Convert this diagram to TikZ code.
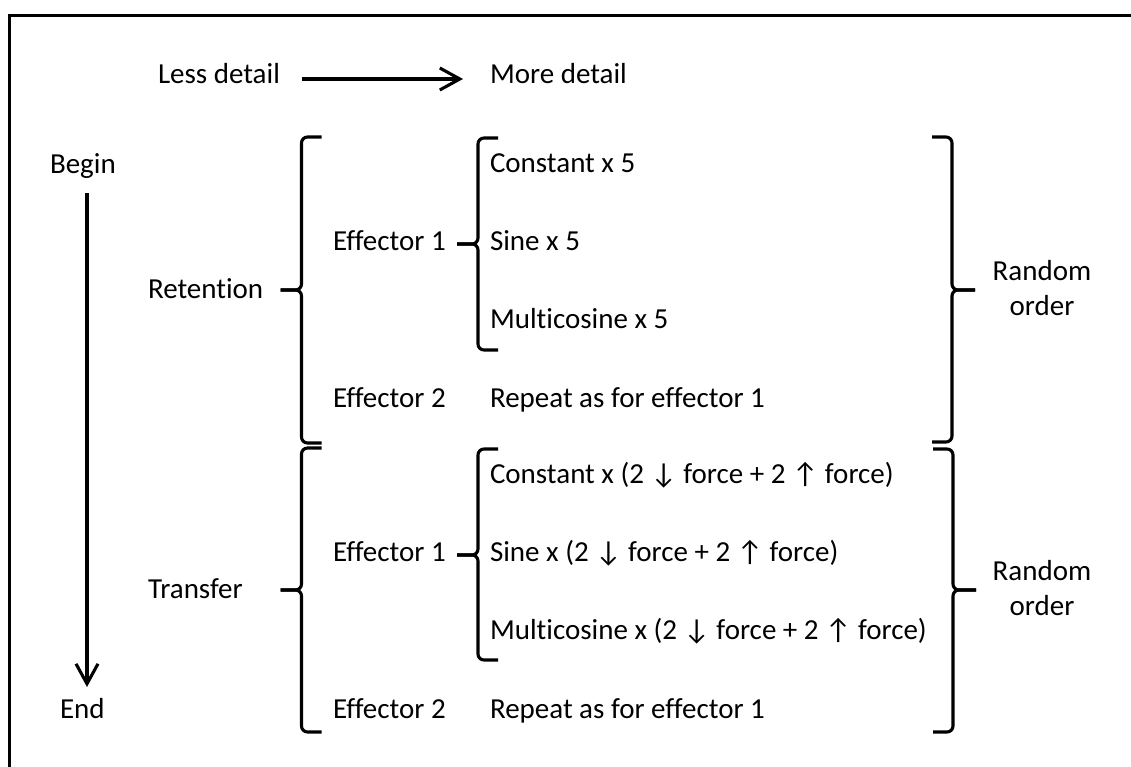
\documentclass[tikz,border=0pt]{standalone}
\usepackage{fontspec}
\setmainfont{Carlito}[Ligatures=NoCommon]
\usetikzlibrary{arrows.meta}
\newcommand\myBraceL[4]{%
  \draw[brc] (#1+20,#2) -- (#1,#2) -- (#1,#3) -- (#1-21,#3);
  \draw[brc] (#1+20,#4) -- (#1,#4) -- (#1,#3) -- (#1-21,#3);}
\newcommand\myBraceR[4]{%
  \draw[brc] (#1-20,#2) -- (#1,#2) -- (#1,#3) -- (#1+23,#3);
  \draw[brc] (#1-20,#4) -- (#1,#4) -- (#1,#3) -- (#1+23,#3);}
\begin{document}
\begin{tikzpicture}[x=1pt,y=-1pt,
  every node/.style={font=\fontsize{29}{35}\selectfont, inner sep=0pt, outer sep=0pt},
  txt/.style={anchor=base west},
  ctr/.style={anchor=base},
  brc/.style={line width=3.1pt, rounded corners=6pt},
  arr/.style={line width=3.1pt, -{Straight Barb[length=20pt,width=22pt]}}]
\useasboundingbox (0,0) rectangle (1131,766);
\draw[line width=3pt] (1140,15.5) -- (9.5,15.5) -- (9.5,775);

% header
\node[txt] (less) at (158,83) {Less detail};
\node[txt] (more) at (490,83) {More detail};
\draw[arr] ([xshift=22pt,yshift=4pt]less.base east) -- ([xshift=-27pt,yshift=4pt]more.base west);

% time axis
\node[txt] (begin) at (50,173) {Begin};
\node[txt] (end) at (60,718) {End};
\draw[arr] ([xshift=37pt,yshift=-20pt]begin.base west) -- ([xshift=27pt,yshift=31pt]end.base west);

% retention
\node[txt] (ret) at (148,298) {Retention};
\node[txt] (re1) at (333,250) {Effector 1};
\node[txt] (rc) at (490,172) {Constant x 5};
\node[txt] (rs) at (490,250) {Sine x 5};
\node[txt] (rm) at (490,328) {Multicosine x 5};
\node[txt] (re2) at (333,407) {Effector 2};
\node[txt] (rr) at (490,407) {Repeat as for effector 1};
\node[ctr] (ro1) at (1042,280) {Random};
\node[ctr] (ro2) at (1042,315) {order};
\myBraceL{301.5}{137}{290}{443}
\myBraceL{478}{138}{244}{350}
\myBraceR{952}{137}{290}{442}

% transfer
\node[txt] (tra) at (148,598.5) {Transfer};
\node[txt] (te1) at (333,561) {Effector 1};
\node[txt] (tc) at (490,483) {Constant x (2 ↓ force + 2 ↑ force)};
\node[txt] (ts) at (490,561) {Sine x (2 ↓ force + 2 ↑ force)};
\node[txt] (tm) at (490,639) {Multicosine x (2 ↓ force + 2 ↑ force)};
\node[txt] (te2) at (333,718) {Effector 2};
\node[txt] (tr) at (490,718) {Repeat as for effector 1};
\node[ctr] (to1) at (1042,580) {Random};
\node[ctr] (to2) at (1042,615) {order};
\myBraceL{301.5}{448}{590}{732}
\myBraceL{478}{449}{555}{660}
\myBraceR{953}{449}{590}{732}
\end{tikzpicture}
\end{document}
